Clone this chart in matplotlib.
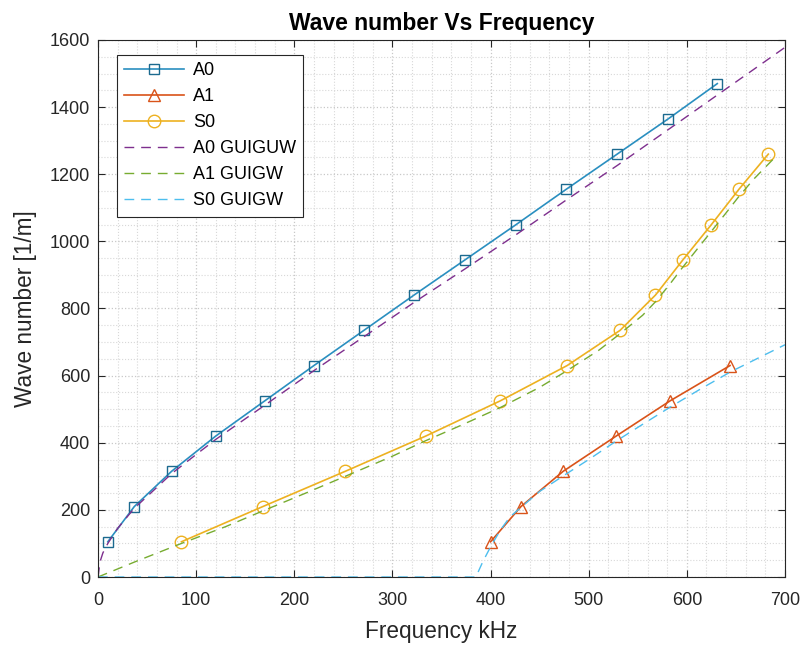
import numpy as np
import matplotlib
matplotlib.use('Agg')
import matplotlib.pyplot as plt
from matplotlib.ticker import MultipleLocator

plt.rcParams['font.family'] = ['Liberation Sans', 'DejaVu Sans']

# measured points (markers)
a0_f = [10, 37, 75, 120, 170, 220, 271, 322, 374, 426, 477, 529, 581, 631]
a0_k = [105, 210, 315, 420, 525, 630, 735, 840, 945, 1050, 1155, 1260, 1365, 1470]

a1_f = [400, 431, 474, 528, 583, 644]
a1_k = [105, 210, 315, 420, 525, 630]

s0_f = [85, 168, 252, 334, 410, 478, 532, 568, 596, 625, 653, 683]
s0_k = [105, 210, 315, 420, 525, 630, 735, 840, 945, 1050, 1155, 1260]

# GUIGW curves (dashed)
a0g_f = [0, 2, 5, 10, 20, 37, 50, 75, 100, 120, 170, 220, 272, 323, 375, 427, 478, 530, 582, 632, 700]
a0g_k = [0, 45, 72, 100, 145, 205, 240, 308, 365, 410, 512, 615, 718, 820, 920, 1022, 1125, 1228, 1335, 1438, 1578]

a1g_f = [0, 40, 85, 130, 168, 210, 252, 300, 333, 370, 410, 450, 478, 510, 532, 555, 568, 582, 595, 610, 625, 640, 652, 668, 688]
a1g_k = [0, 48, 100, 150, 197, 248, 300, 360, 405, 452, 505, 565, 615, 675, 725, 780, 820, 870, 920, 975, 1030, 1085, 1130, 1185, 1245]

s0g_f = [0, 385, 392, 400, 410, 420, 432, 450, 476, 500, 528, 555, 584, 615, 645, 700]
s0g_k = [0, 0, 45, 90, 140, 180, 210, 255, 305, 350, 405, 455, 508, 562, 612, 692]

fig = plt.figure(figsize=(8.02, 6.46), dpi=100)
ax = fig.add_axes([0.1222, 0.1068, 0.8566, 0.8313])

ax.plot(a0_f, a0_k, '-s', color='#2a8fc0', mec='#1c6a8f', mfc='none', ms=7, lw=1.2, label='A0')
ax.plot(a1_f, a1_k, '-^', color='#D95319', mfc='none', ms=8, lw=1.2, label='A1')
ax.plot(s0_f, s0_k, '-o', color='#EDB120', mfc='none', ms=9, lw=1.2, label='S0')
ax.plot(a0g_f, a0g_k, '--', color='#7E2F8E', lw=1.0, dashes=(7, 5), label='A0 GUIGUW')
ax.plot(a1g_f, a1g_k, '--', color='#77AC30', lw=1.0, dashes=(7, 5), label='A1 GUIGW')
ax.plot(s0g_f, s0g_k, '--', color='#4DBEEE', lw=1.0, dashes=(7, 5), label='S0 GUIGW')

ax.set_xlim(0, 700)
ax.set_ylim(0, 1600)
ax.xaxis.set_major_locator(MultipleLocator(100))
ax.xaxis.set_minor_locator(MultipleLocator(20))
ax.yaxis.set_major_locator(MultipleLocator(200))
ax.yaxis.set_minor_locator(MultipleLocator(50))
ax.tick_params(which='both', direction='in', top=True, right=True, labelsize=13, colors='#262626')
ax.tick_params(which='major', length=5)
ax.tick_params(which='minor', length=0)
ax.tick_params(axis='x', pad=11)
ax.tick_params(axis='y', pad=5.5)
ax.grid(which='major', color='#c8c8c8', linestyle=':', lw=0.9)
ax.grid(which='minor', color='#d8d8d8', linestyle=':', lw=0.8)
for s in ax.spines.values():
    s.set_color('#262626')

ax.set_title('Wave number Vs Frequency', fontsize=16.5, fontweight='bold', pad=7)
ax.set_xlabel('Frequency kHz', fontsize=16.3, color='#262626', labelpad=8)
ax.set_ylabel('Wave number [1/m]', fontsize=16.3, color='#262626', labelpad=9)

leg = ax.legend(loc='upper left', bbox_to_anchor=(0.028, 0.972), fontsize=13,
                handlelength=3.3, handletextpad=0.5, labelspacing=0.5, fancybox=False,
                edgecolor='#262626', framealpha=1, borderaxespad=0)
leg.get_frame().set_linewidth(0.8)

fig.savefig('out.png', dpi=100)
